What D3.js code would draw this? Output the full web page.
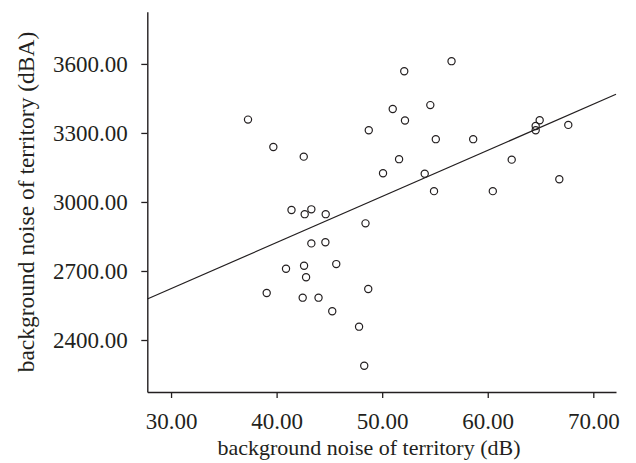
<!DOCTYPE html>
<html>
<head>
<meta charset="utf-8">
<script src="https://cdn.jsdelivr.net/npm/d3@7"></script>
<style>
    body { margin: 0; background: #fff; }
    .tick-label { font-family: "Liberation Serif", "Times New Roman", serif; font-size: 23px; fill: #231f20; }
    .axis-title { font-family: "Liberation Serif", "Times New Roman", serif; font-size: 22px; fill: #231f20; }
    .axis-title-y { font-size: 23.5px; }
</style>
</head>
<body>
<div id="chart"></div>
<script>
// background noise of territory (dB)
const noiseDb = [37.29, 39.69, 42.57, 41.41, 42.66, 43.29, 44.65, 48.42, 48.73, 50.08,
    51.00, 52.09, 56.57, 54.56, 52.16, 55.08, 58.62, 51.60, 54.03, 54.91,
    60.48, 62.27, 66.78, 64.92, 64.54, 64.54, 67.63, 43.29, 44.62, 40.89,
    42.60, 42.79, 45.65, 39.06, 42.47, 43.97, 48.68, 45.27, 47.81, 48.30];
// background noise of territory (dBA)
const noiseDba = [3358, 3239, 3197, 2965, 2947, 2968, 2947, 2907, 3312, 3125,
    3404, 3568, 3612, 3421, 3354, 3273, 3273, 3186, 3123, 3047,
    3047, 3184, 3099, 3355, 3330, 3312, 3335, 2820, 2825, 2710,
    2723, 2673, 2730, 2604, 2584, 2584, 2622, 2525, 2458, 2288];

// fitted line end points
const fitX = [27.75, 72.15];
const fitY = [2578, 3468];

const xTicks = [30, 40, 50, 60, 70];
const yTicks = [2400, 2700, 3000, 3300, 3600];
const xDomain = [27.75, 72.15];
const yDomain = [2174, 3827];

function renderScatter() {
    const width = 636;
    const height = 463;
    const left = 147.3, right = 616, top = 11.7, bottom = 392;

    const svg = d3.select("#chart").append("svg")
        .attr("width", width)
        .attr("height", height);

    const xScale = d3.scaleLinear().domain(xDomain).range([left, right]);
    const yScale = d3.scaleLinear().domain(yDomain).range([bottom, top]);

    // x-axis
    const xAxis = svg.append("g")
        .attr("transform", `translate(0, ${bottom})`)
        .call(d3.axisBottom(xScale).tickValues(xTicks).tickSize(6).tickSizeOuter(0).tickFormat(d3.format(".2f")));
    xAxis.select(".domain").attr("stroke", "#231f20").attr("stroke-width", 1.4);
    xAxis.selectAll(".tick line").attr("stroke", "#231f20").attr("stroke-width", 1.3);
    xAxis.selectAll(".tick text")
        .attr("class", "tick-label")
        .attr("y", 0)
        .attr("dy", 37);
    xAxis.attr("font-size", null).attr("font-family", null);

    // y-axis
    const yAxis = svg.append("g")
        .attr("transform", `translate(${left}, 0)`)
        .call(d3.axisLeft(yScale).tickValues(yTicks).tickSize(6).tickSizeOuter(0).tickFormat(d3.format(".2f")));
    yAxis.select(".domain").attr("stroke", "#231f20").attr("stroke-width", 1.4);
    yAxis.selectAll(".tick line").attr("stroke", "#231f20").attr("stroke-width", 1.3);
    yAxis.selectAll(".tick text")
        .attr("class", "tick-label")
        .attr("x", -19.5)
        .attr("dy", "0.34em");
    yAxis.attr("font-size", null).attr("font-family", null);

    // axis titles
    svg.append("text")
        .attr("class", "axis-title")
        .attr("text-anchor", "middle")
        .attr("transform", `translate(369, 455)`)
        .text("background noise of territory (dB)");

    svg.append("text")
        .attr("class", "axis-title axis-title-y")
        .attr("text-anchor", "middle")
        .attr("transform", `translate(33.5, 202) rotate(270)`)
        .text("background noise of territory (dBA)");

    // fit line
    svg.append("path")
        .datum(d3.zip(fitX, fitY))
        .attr("fill", "none")
        .attr("stroke", "#231f20")
        .attr("stroke-width", 1.2)
        .attr("d", d3.line()
            .x(function (d) { return xScale(d[0]); })
            .y(function (d) { return yScale(d[1]); }));

    // points
    svg.selectAll("circle")
        .data(d3.zip(noiseDb, noiseDba))
        .join("circle")
        .attr("cx", function (d) { return xScale(d[0]); })
        .attr("cy", function (d) { return yScale(d[1]); })
        .attr("r", 3.6)
        .attr("fill", "none")
        .attr("stroke", "#231f20")
        .attr("stroke-width", 1.2);
}

renderScatter();
</script>
</body>
</html>
